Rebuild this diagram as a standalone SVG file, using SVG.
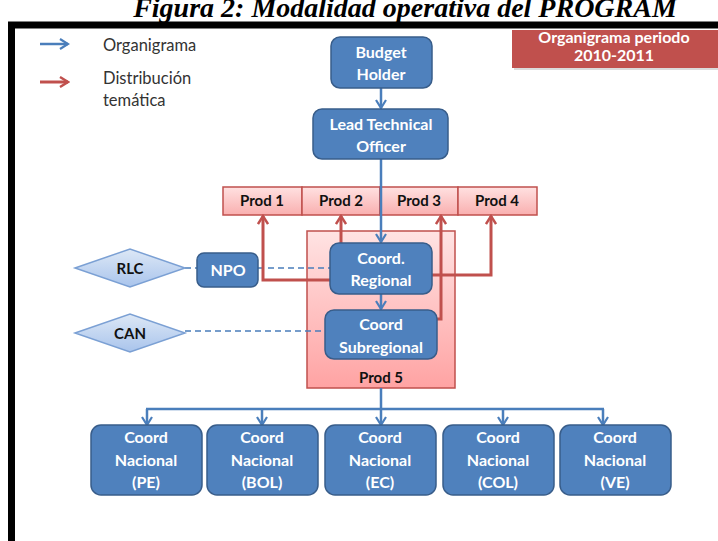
<svg xmlns="http://www.w3.org/2000/svg" width="718" height="541" viewBox="0 0 718 541">
<defs>
<linearGradient id="gProd" x1="0" y1="0" x2="0" y2="1"><stop offset="0" stop-color="#FFE1E1"/><stop offset="1" stop-color="#F9AFAF"/></linearGradient>
<linearGradient id="gP5" x1="0" y1="0" x2="0" y2="1"><stop offset="0" stop-color="#FFE3E3"/><stop offset="1" stop-color="#FFA3A3"/></linearGradient>
<linearGradient id="gDia" x1="0" y1="0" x2="0" y2="1"><stop offset="0" stop-color="#DDE8F6"/><stop offset="1" stop-color="#A9C4EC"/></linearGradient>
<marker id="aB" markerWidth="12" markerHeight="12" refX="10" refY="6" orient="auto" markerUnits="userSpaceOnUse"><path d="M2,1 L10,6 L2,11" fill="none" stroke="#4A7EBB" stroke-width="2.2"/></marker>
<marker id="aR" markerWidth="12" markerHeight="12" refX="10" refY="6" orient="auto" markerUnits="userSpaceOnUse"><path d="M2,1 L10,6 L2,11" fill="none" stroke="#C0504D" stroke-width="2.4"/></marker>
<style>
.n{fill:#4F81BD;stroke:#385D8A;stroke-width:1.5}
.t{font-family:Lato,"Liberation Sans",sans-serif;font-weight:bold;font-size:16px;fill:#fff;text-anchor:middle}
.k{font-family:Lato,"Liberation Sans",sans-serif;font-weight:bold;font-size:15px;fill:#111;text-anchor:middle}
.lg{font-family:Lato,"Liberation Sans",sans-serif;font-size:16.5px;fill:#333}
.pr{fill:url(#gProd);stroke:#C0504D;stroke-width:1.5}
.bl{stroke:#4A7EBB;stroke-width:2.5;fill:none}
.rd{stroke:#C0504D;stroke-width:3;fill:none}
.ds{stroke:#4A7EBB;stroke-width:1.5;fill:none;stroke-dasharray:6,4}
</style>
</defs>
<rect width="718" height="541" fill="#fff"/>
<text x="405" y="17" font-family="'Liberation Serif',serif" font-weight="bold" font-style="italic" font-size="28" text-anchor="middle" fill="#000">Figura 2: Modalidad operativa del PROGRAM</text>
<rect x="11.5" y="25" width="720" height="530" fill="#fff" stroke="#000" stroke-width="7"/>

<g id="legend">
<line x1="40" y1="44" x2="68" y2="44" class="bl" marker-end="url(#aB)"/>
<text x="103" y="51" class="lg">Organigrama</text>
<line x1="40" y1="82" x2="68" y2="82" class="rd" marker-end="url(#aR)"/>
<text x="103" y="84" class="lg">Distribución</text>
<text x="103" y="106" class="lg">temática</text>
</g>

<g id="periodo">
<rect x="514" y="32" width="210" height="38" fill="#999" opacity="0.35"/>
<rect x="512" y="30" width="210" height="38" fill="#C0504D"/>
<text x="614" y="43" class="t" font-size="15">Organigrama periodo</text>
<text x="614" y="61" class="t" font-size="15">2010-2011</text>
</g>

<g id="prod5">
<rect x="307" y="231" width="148" height="157" fill="url(#gP5)" stroke="#C0504D" stroke-width="1.5"/>
<text x="381" y="383" class="k" font-size="16">Prod 5</text>
</g>

<g id="prods">
<rect x="223" y="187" width="79" height="28" class="pr"/>
<text x="262" y="206" class="k">Prod 1</text>
<rect x="302" y="187" width="78" height="28" class="pr"/>
<text x="341" y="206" class="k">Prod  2</text>
<rect x="380" y="187" width="78" height="28" class="pr"/>
<text x="419" y="206" class="k">Prod 3</text>
<rect x="458" y="187" width="79" height="28" class="pr"/>
<text x="497" y="206" class="k">Prod 4</text>
</g>

<g id="connectors">
<line x1="381" y1="88" x2="381" y2="108" class="bl" marker-end="url(#aB)"/>
<line x1="381" y1="159" x2="381" y2="242" class="bl" marker-end="url(#aB)"/>
<line x1="381" y1="294" x2="381" y2="309" class="bl" marker-end="url(#aB)"/>
<line x1="381" y1="388" x2="381" y2="409" class="bl"/>
<line x1="146" y1="409" x2="604" y2="409" class="bl"/>
<line x1="147" y1="409" x2="147" y2="425" class="bl" marker-end="url(#aB)"/>
<line x1="262" y1="409" x2="262" y2="425" class="bl" marker-end="url(#aB)"/>
<line x1="381" y1="409" x2="381" y2="425" class="bl" marker-end="url(#aB)"/>
<line x1="503" y1="409" x2="503" y2="425" class="bl" marker-end="url(#aB)"/>
<line x1="603" y1="409" x2="603" y2="425" class="bl" marker-end="url(#aB)"/>
<line x1="185" y1="268" x2="197" y2="268" class="ds"/>
<line x1="258" y1="268" x2="330" y2="268" class="ds"/>
<line x1="185" y1="331" x2="325" y2="331" class="ds"/>
<polyline points="330,280 263,280 263,216" class="rd" marker-end="url(#aR)"/>
<line x1="341" y1="243" x2="341" y2="216" class="rd" marker-end="url(#aR)"/>
<polyline points="437,319 441,319 441,216" class="rd" marker-end="url(#aR)"/>
<polyline points="432,275 491,275 491,216" class="rd" marker-end="url(#aR)"/>
</g>

<g id="budget"><rect x="331" y="37" width="101" height="51" rx="9" class="n"/><text x="381" y="58" class="t">Budget</text><text x="381" y="80" class="t">Holder</text></g>
<g id="lto"><rect x="313" y="109" width="135" height="50" rx="9" class="n"/><text x="381" y="130" class="t">Lead Technical</text><text x="381" y="152" class="t">Officer</text></g>
<g id="coordreg"><rect x="330" y="243" width="102" height="51" rx="9" class="n"/><text x="381" y="264" class="t">Coord.</text><text x="381" y="286" class="t">Regional</text></g>
<g id="coordsub"><rect x="325" y="310" width="112" height="49" rx="9" class="n"/><text x="381" y="330" class="t">Coord</text><text x="381" y="353" class="t">Subregional</text></g>
<g id="npo"><rect x="197" y="253" width="61" height="34" rx="7" class="n"/><text x="228" y="276" class="t">NPO</text></g>
<g id="rlc"><polygon points="75,268 130,249 185,268 130,287" fill="url(#gDia)" stroke="#7BA0D4" stroke-width="1.5"/><text x="130" y="274" class="k" font-size="16">RLC</text></g>
<g id="can"><polygon points="75,333 130,314 185,333 130,352" fill="url(#gDia)" stroke="#7BA0D4" stroke-width="1.5"/><text x="130" y="339" class="k" font-size="16">CAN</text></g>

<g id="cn-pe"><rect x="91" y="425" width="111" height="70" rx="10" class="n"/><text x="146" y="443" class="t">Coord</text><text x="146" y="466" class="t">Nacional</text><text x="146" y="488" class="t">(PE)</text></g>
<g id="cn-bol"><rect x="207" y="425" width="111" height="70" rx="10" class="n"/><text x="262" y="443" class="t">Coord</text><text x="262" y="466" class="t">Nacional</text><text x="262" y="488" class="t">(BOL)</text></g>
<g id="cn-ec"><rect x="325" y="425" width="111" height="70" rx="10" class="n"/><text x="380" y="443" class="t">Coord</text><text x="380" y="466" class="t">Nacional</text><text x="380" y="488" class="t">(EC)</text></g>
<g id="cn-col"><rect x="443" y="425" width="111" height="70" rx="10" class="n"/><text x="498" y="443" class="t">Coord</text><text x="498" y="466" class="t">Nacional</text><text x="498" y="488" class="t">(COL)</text></g>
<g id="cn-ve"><rect x="560" y="425" width="111" height="70" rx="10" class="n"/><text x="615" y="443" class="t">Coord</text><text x="615" y="466" class="t">Nacional</text><text x="615" y="488" class="t">(VE)</text></g>
</svg>
